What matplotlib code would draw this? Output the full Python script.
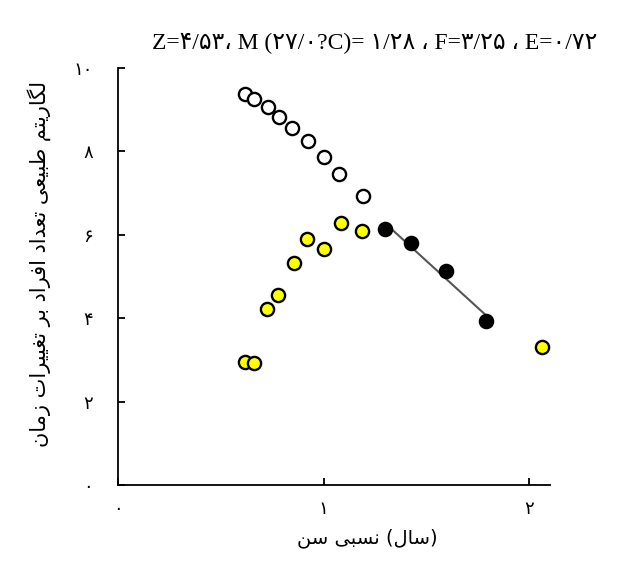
import numpy as np
import matplotlib
matplotlib.use("Agg")
import matplotlib.pyplot as plt

# -----------------------------
# Data
# -----------------------------
open_age = [0.615, 0.663, 0.727, 0.785, 0.844, 0.922, 1.00, 1.073, 1.19]
open_ln = [9.38, 9.26, 9.06, 8.83, 8.56, 8.25, 7.87, 7.46, 6.93]

yellow_age = [0.615, 0.663, 0.722, 0.780, 0.854, 0.917, 1.00, 1.083, 1.185, 2.063]
yellow_ln = [2.95, 2.93, 4.22, 4.56, 5.32, 5.90, 5.66, 6.28, 6.09, 3.31]

black_age = [1.298, 1.424, 1.595, 1.79]
black_ln = [6.14, 5.80, 5.13, 3.93]

x_ticks = [0, 1, 2]
y_ticks = [0, 2, 4, 6, 8, 10]

title_txt = "Z=۴/۵۳، M (۲۷/۰?C)= ۱/۲۸ ، F=۳/۲۵ ، E=۰/۷۲"
ylabel_txt = "لگاریتم طبیعی تعداد افراد بر تغییرات زمان"
xlabel_words = ["سن", "نسبی", "سال"]

# -----------------------------
# Minimal Persian shaping (matplotlib has no text shaping)
# -----------------------------
F = {
    "ا": ("\uFE8D", "\uFE8E", None, None),
    "ب": ("\uFE8F", "\uFE90", "\uFE91", "\uFE92"),
    "ت": ("\uFE95", "\uFE96", "\uFE97", "\uFE98"),
    "د": ("\uFEA9", "\uFEAA", None, None),
    "ر": ("\uFEAD", "\uFEAE", None, None),
    "ز": ("\uFEAF", "\uFEB0", None, None),
    "س": ("\uFEB1", "\uFEB2", "\uFEB3", "\uFEB4"),
    "ط": ("\uFEC1", "\uFEC2", "\uFEC3", "\uFEC4"),
    "ع": ("\uFEC9", "\uFECA", "\uFECB", "\uFECC"),
    "غ": ("\uFECD", "\uFECE", "\uFECF", "\uFED0"),
    "ف": ("\uFED1", "\uFED2", "\uFED3", "\uFED4"),
    "ل": ("\uFEDD", "\uFEDE", "\uFEDF", "\uFEE0"),
    "م": ("\uFEE1", "\uFEE2", "\uFEE3", "\uFEE4"),
    "ن": ("\uFEE5", "\uFEE6", "\uFEE7", "\uFEE8"),
    "ی": ("\uFBFC", "\uFBFD", "\uFBFE", "\uFBFF"),
    "گ": ("\uFB92", "\uFB93", "\uFB94", "\uFB95"),
}


def shape(word):
    # returns the word in visual (left-to-right) order
    out = []
    for i, c in enumerate(word):
        if c not in F:
            out.append(c)
            continue
        prev = word[i - 1] if i > 0 else None
        nxt = word[i + 1] if i + 1 < len(word) else None
        jp = prev in F and F[prev][2] is not None
        jn = nxt in F and F[c][2] is not None
        isol, fin, ini, med = F[c]
        if jp and jn:
            out.append(med)
        elif jp:
            out.append(fin)
        elif jn:
            out.append(ini)
        else:
            out.append(isol)
    return "".join(out)[::-1]


fa = str.maketrans("0123456789", "۰۱۲۳۴۵۶۷۸۹")

ylabel_vis = " ".join(shape(w) for w in ylabel_txt.split()[::-1])
xlabel_vis = shape(xlabel_words[0]) + " " + shape(xlabel_words[1]) + " (" + shape(xlabel_words[2]) + ")"

# -----------------------------
# Plot
# -----------------------------
fig = plt.figure(figsize=(6.25, 5.62), dpi=100)
ax = fig.add_axes([0.1888, 0.137, 0.6912, 0.742])

ax.plot(open_age, open_ln, "o", ms=9.5, mfc="white", mec="black", mew=1.7)
ax.plot(yellow_age, yellow_ln, "o", ms=9.5, mfc="#FFFF00", mec="black", mew=1.7)
ax.plot(black_age, black_ln, "o", ms=9.5, mfc="black", mec="black", mew=1.7)

# regression line over the descending limb
k, b = np.polyfit(black_age, black_ln, 1)
xx = np.array([min(black_age), max(black_age)])
ax.plot(xx, k * xx + b, color="#555555", lw=1.5, zorder=1)

ax.set_xlim(0, 2.1)
ax.set_ylim(0, 10)
ax.spines["top"].set_visible(False)
ax.spines["right"].set_visible(False)
ax.spines["left"].set_linewidth(1.3)
ax.spines["bottom"].set_linewidth(1.3)

ax.set_xticks(x_ticks)
ax.set_xticklabels([str(t).translate(fa) for t in x_ticks], fontsize=13, family="DejaVu Sans")
ax.set_yticks(y_ticks)
ax.set_yticklabels([str(t).translate(fa) for t in y_ticks], fontsize=13, family="DejaVu Sans")
ax.tick_params(direction="in", length=5, width=1.3)
ax.tick_params(axis="y", pad=18)
ax.tick_params(axis="x", pad=11)

fig.text(0.6, 0.922, title_txt, ha="center", va="center", fontsize=17,
         family=["Liberation Serif", "DejaVu Sans"])
fig.text(0.063, 0.53, ylabel_vis, rotation=90, ha="center", va="center", fontsize=15,
         family="DejaVu Sans")
fig.text(0.587, 0.043, xlabel_vis, ha="center", va="center", fontsize=14,
         family="DejaVu Sans")

fig.savefig("out.png", dpi=100)
